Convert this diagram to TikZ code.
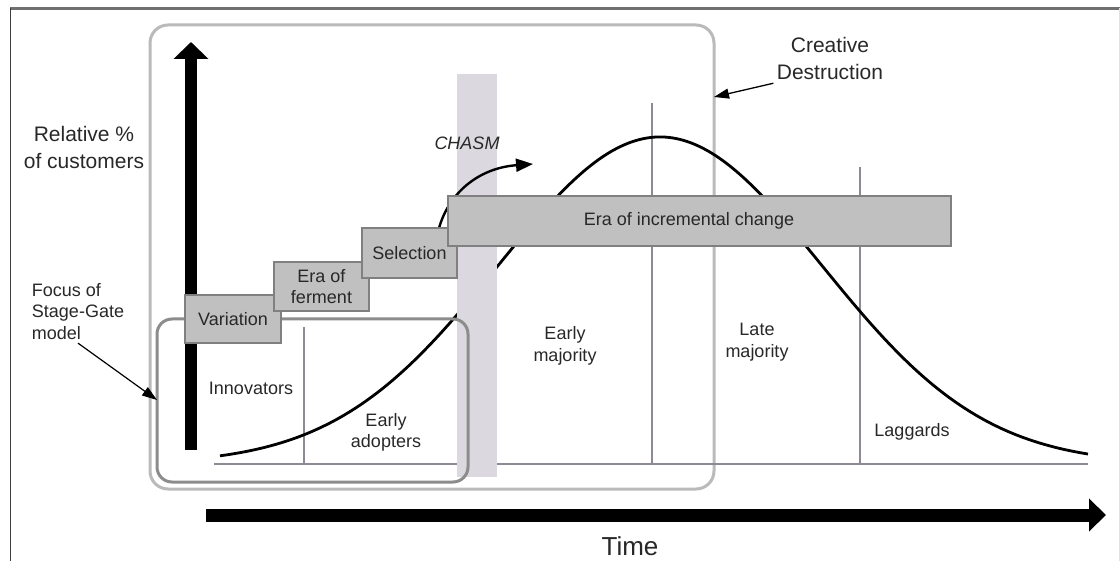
\documentclass[tikz,border=0pt]{standalone}
\usepackage{fontspec}
\setmainfont{Liberation Sans}
\usetikzlibrary{arrows.meta}

\definecolor{txt}{RGB}{40,40,40}
\definecolor{boxfill}{RGB}{192,192,192}
\definecolor{boxline}{RGB}{128,128,128}
\definecolor{chasm}{RGB}{219,217,223}
\definecolor{gridline}{RGB}{142,137,147}
\definecolor{bigline}{RGB}{186,186,186}
\definecolor{sgline}{RGB}{140,140,140}
\definecolor{framegray}{RGB}{112,112,112}
\definecolor{framelight}{RGB}{225,225,225}

\begin{document}
\begin{tikzpicture}[x=1pt, y=-1pt,
    lbl/.style={font=\fontsize{18}{21.5}\selectfont, text=txt, align=center},
    stagebox/.style={lbl, draw=boxline, fill=boxfill, line width=1.8pt, inner sep=0pt},
    divline/.style={draw=gridline, line width=2pt},
    bigarrow/.style={-{Triangle[length=17pt,width=34pt]}},
    thinarrow/.style={line width=1.3pt, -{Triangle[length=15pt,width=10pt]}}]

    \useasboundingbox (0,0) rectangle (1120,561);

    % frame
    \draw [framegray, line width=2.6pt] (10,8.5) -- (1120,8.5);
    \draw [black!75, line width=1.4pt] (10.5,8) -- (10.5,561);
    \draw [framelight, line width=1pt] (1119,8) -- (1119,561);

    % outer box
    \draw [bigline, line width=3pt, rounded corners=18pt] (150,25) rectangle (714,489);
    \coordinate (cdtip) at (714,97);

    % base line and dividers
    \draw [divline] (214,464) -- (1088,464);
    \draw [divline] (304,464) -- (304,327);
    \draw [divline] (652,464) -- (652,103);
    \draw [divline] (860,464) -- (860,167);

    % adoption curve, peak at 660
    \draw [line width=2.8pt, smooth, samples=120, domain=220:1088]
      plot (\x, {464-327*exp(-((\x-660)/100)^2/5.2488)});

    \fill [chasm] (457,74) rectangle (497,477);

    % focus of stage-gate
    \draw [sgline, line width=3pt, rounded corners=15pt] (157,319) rectangle (468,482);
    \coordinate (sgwest) at (157,400);

    % axes
    \coordinate (yfoot) at (191,450);
    \coordinate (ytop) at (191,42);
    \coordinate (tstart) at (206,515);
    \coordinate (tend) at (1106,515);
    \draw [line width=12pt, bigarrow] (yfoot) -- (ytop);
    \draw [line width=13pt, -{Triangle[length=17pt,width=32pt]}] (tstart) -- (tend);

    % jump over the chasm
    \coordinate (jumpfrom) at (438,232);
    \coordinate (jumpto) at (533,164);
    \draw [line width=2.4pt, -{Triangle[length=17pt,width=13pt]}] (jumpfrom) .. controls (447,194) and (478,168) .. (jumpto);

    \node [stagebox, minimum width=96pt, minimum height=48pt] (variation) at (233,319) {Variation};
    \node [stagebox, minimum width=95pt, minimum height=49pt] (ferment) at (321.5,286.5) {Era of\\ferment};
    \node [stagebox, minimum width=95pt, minimum height=50pt] (selection) at (409.5,253) {Selection};
    \node [stagebox, minimum width=503pt, minimum height=50pt] (incremental) at (699.5,221) {Era of incremental change\hspace*{21pt}};

    \node [lbl, font=\fontsize{21}{27}\selectfont] (ylabel) at (84,147) {Relative \%\\of customers};
    \node [lbl, font=\fontsize{18}{21.5}\selectfont\itshape] (chasmlbl) at (467,143) {CHASM};
    \node [lbl] (innov) at (251,388) {Innovators};
    \node [lbl] (adopt) at (386,432.5) {Early\\adopters};
    \node [lbl] (earlymaj) at (565,346) {Early\\majority};
    \node [lbl] (latemaj) at (757,342) {Late\\majority};
    \node [lbl] (lag) at (912,432) {Laggards};
    \node [lbl, font=\fontsize{26}{30}\selectfont] (time) at (630,546) {Time};
    \node [lbl, font=\fontsize{21}{27}\selectfont] (destr) at (830,58.5) {Creative\\Destruction};
    \node [lbl, align=left] (focus) at (78,311.5) {Focus of\\Stage-Gate\\model};

    \draw [thinarrow] (destr.south west) -- (cdtip);
    \draw [thinarrow, line width=1.2pt] (focus.south) -- (sgwest);
\end{tikzpicture}
\end{document}
